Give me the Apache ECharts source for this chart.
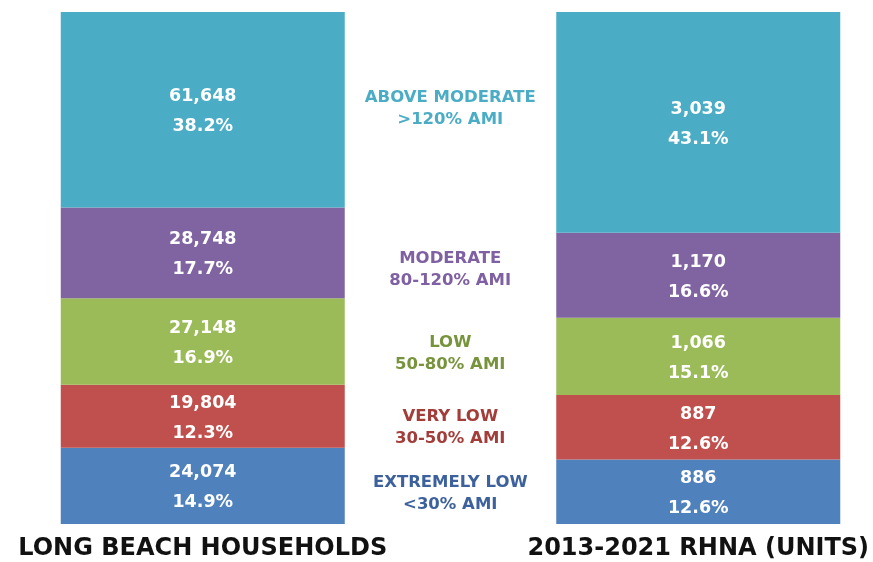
<!DOCTYPE html>
<html>
<head>
    <meta charset="utf-8">
    <title>Long Beach households vs RHNA</title>
    <script src="https://cdn.jsdelivr.net/npm/echarts@6/dist/echarts.min.js"></script>
    <style>
        html, body { margin: 0; padding: 0; background: #fff; }
        #chart { width: 873px; height: 562px; }
    </style>
</head>
<body>
    <div id="chart"></div>
<script type="text/javascript">
    // data, bottom segment first
    var categories = ['LONG BEACH HOUSEHOLDS', '2013-2021 RHNA (UNITS)'];
    var levels = ['EXTREMELY LOW', 'VERY LOW', 'LOW', 'MODERATE', 'ABOVE MODERATE'];
    var amiRanges = ['<30% AMI', '30-50% AMI', '50-80% AMI', '80-120% AMI', '>120% AMI'];
    var households = [24074, 19804, 27148, 28748, 61648];
    var householdPct = [14.9, 12.3, 16.9, 17.7, 38.2];
    var rhnaUnits = [886, 887, 1066, 1170, 3039];
    var rhnaPct = [12.6, 12.6, 15.1, 16.6, 43.1];

    var barColors = ['#4F81BD', '#C0504D', '#9BBB59', '#8064A2', '#4BACC6'];
    var nameColors = ['#3D619C', '#A23D3A', '#77943D', '#7F60A2', '#4BACC6'];
    var nameShift = [2, 0, -3, -5, -14]; // nudge the middle captions

    var myChart = echarts.init(document.getElementById('chart'));

    var series = [];
    levels.forEach(function (lv, i) {
        // visible stacked segments with count + share
        series.push({
            name: lv,
            type: 'bar',
            stack: 'main',
            barWidth: 284,
            barGap: '-100%',
            silent: true,
            itemStyle: { color: barColors[i] },
            label: {
                show: true,
                position: 'inside',
                offset: [0, 2],
                color: '#fff',
                fontFamily: 'DejaVu Sans',
                fontWeight: 'bold',
                fontSize: 17.5,
                lineHeight: 30,
                formatter: function (p) {
                    var n = p.dataIndex === 0 ? households[i] : rhnaUnits[i];
                    return n.toLocaleString('en-US') + '\n' + p.value.toFixed(1) + '%';
                }
            },
            data: [householdPct[i], rhnaPct[i]]
        });
    });
    levels.forEach(function (lv, i) {
        // invisible copy of the right bar, carries the income level captions
        series.push({
            name: lv + ' caption',
            type: 'bar',
            stack: 'names',
            barWidth: 284,
            barGap: '-100%',
            silent: true,
            itemStyle: { color: 'rgba(0,0,0,0)' },
            label: {
                show: true,
                position: [-106, '50%'],
                offset: [0, nameShift[i]],
                align: 'center',
                verticalAlign: 'middle',
                color: nameColors[i],
                fontFamily: 'DejaVu Sans',
                fontWeight: 'bold',
                fontSize: 16.5,
                lineHeight: 22,
                formatter: function () {
                    return levels[i] + '\n' + amiRanges[i];
                }
            },
            data: ['-', rhnaPct[i]]
        });
    });

    myChart.setOption({
        animation: false,
        grid: { left: -45, width: 991, top: 12, height: 512, outerBoundsMode: 'none' },
        xAxis: {
            type: 'category',
            data: categories,
            axisLine: { show: false },
            axisTick: { show: false },
            axisLabel: {
                margin: 13,
                color: '#111',
                fontFamily: 'DejaVu Sans',
                fontWeight: 'bold',
                fontSize: 24
            }
        },
        yAxis: {
            type: 'value',
            min: 0,
            max: 100,
            show: false
        },
        series: series
    });
</script>
</body>
</html>
